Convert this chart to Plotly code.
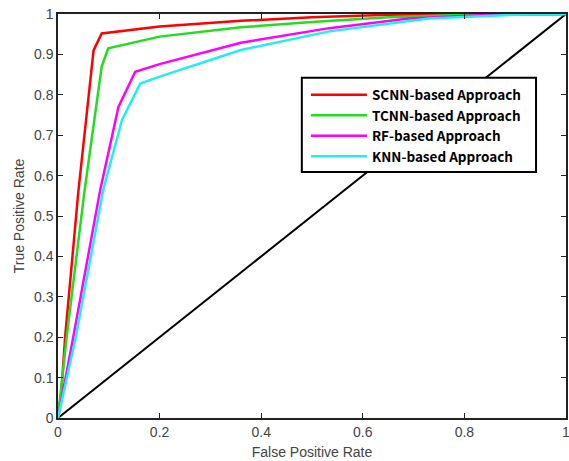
import plotly.graph_objects as go

# ROC data
scnn_fpr = [0, 0.007, 0.014, 0.04, 0.07, 0.086, 0.2, 0.36, 0.5, 0.65, 0.8, 1.0]
scnn_tpr = [0, 0.07, 0.2, 0.56, 0.91, 0.952, 0.969, 0.983, 0.992, 0.998, 1.0, 1.0]

tcnn_fpr = [0, 0.017, 0.052, 0.086, 0.099, 0.2, 0.36, 0.5, 0.65, 0.8, 1.0]
tcnn_tpr = [0, 0.2, 0.56, 0.87, 0.915, 0.944, 0.967, 0.98, 0.992, 0.998, 1.0]

rf_fpr = [0, 0.03, 0.083, 0.119, 0.152, 0.2, 0.36, 0.534, 0.69, 0.85, 1.0]
rf_tpr = [0, 0.2, 0.564, 0.77, 0.857, 0.876, 0.929, 0.965, 0.989, 0.998, 1.0]

knn_fpr = [0, 0.035, 0.089, 0.126, 0.162, 0.2, 0.36, 0.534, 0.73, 0.9, 1.0]
knn_tpr = [0, 0.2, 0.564, 0.738, 0.828, 0.845, 0.911, 0.957, 0.989, 0.998, 1.0]

diag = [0, 1]

names = ["SCNN-based Approach", "TCNN-based Approach", "RF-based Approach", "KNN-based Approach"]
colors = ["#ff0000", "#22dd22", "#ff00ff", "#22eeee"]

x_ticks = [0, 0.2, 0.4, 0.6, 0.8, 1.0]
x_labels = ["0", "0.2", "0.4", "0.6", "0.8", "1"]
y_ticks = [0, 0.1, 0.2, 0.3, 0.4, 0.5, 0.6, 0.7, 0.8, 0.9, 1.0]
y_labels = ["0", "0.1", "0.2", "0.3", "0.4", "0.5", "0.6", "0.7", "0.8", "0.9", "1"]

fig = go.Figure()
fig.add_trace(go.Scatter(x=diag, y=diag, mode="lines", line=dict(color="black", width=2), showlegend=False))
series = [(scnn_fpr, scnn_tpr), (tcnn_fpr, tcnn_tpr), (rf_fpr, rf_tpr), (knn_fpr, knn_tpr)]
for (fx, fy), n, c in zip(series, names, colors):
    fig.add_trace(go.Scatter(x=fx, y=fy, mode="lines", name=n, line=dict(color=c, width=2.5)))

axis_common = dict(
    showgrid=False, zeroline=False, showline=True, linecolor="#222222", linewidth=1.5,
    mirror="ticks", ticks="inside", ticklen=5, tickcolor="#222222", automargin=False,
    ticklabeloverflow="allow",
    tickfont=dict(family="Liberation Sans, Arial", size=14, color="#444444"),
)
title_font = dict(family="Liberation Sans, Arial", size=14, color="#444444")
fig.update_xaxes(range=[0, 1], tickvals=x_ticks, ticktext=x_labels,
                 title=dict(text="False Positive Rate", font=title_font, standoff=9),
                 **axis_common)
fig.update_yaxes(range=[0, 1], tickvals=y_ticks, ticktext=y_labels,
                 title=dict(text="True Positive Rate", font=title_font, standoff=6),
                 **axis_common)

# legend frame (drawn as a box behind the legend entries)
fig.add_shape(type="rect", xref="paper", yref="paper",
              x0=0.480, x1=0.941, y0=0.609, y1=0.842,
              fillcolor="white", line=dict(color="black", width=2), layer="above")

fig.update_layout(
    width=569, height=461,
    margin=dict(l=58, r=3, t=14, b=43),
    plot_bgcolor="white", paper_bgcolor="white",
    legend=dict(
        x=0.488, y=0.838, xanchor="left", yanchor="top",
        bgcolor="rgba(0,0,0,0)", borderwidth=0,
        font=dict(family="Noto Sans CJK SC, DejaVu Sans", size=13.5, color="black", weight="bold"),
        tracegroupgap=0, itemwidth=56,
    ),
)

fig.write_html("out.html", post_script="document.body.style.margin='0';",
               config={"displayModeBar": False})
